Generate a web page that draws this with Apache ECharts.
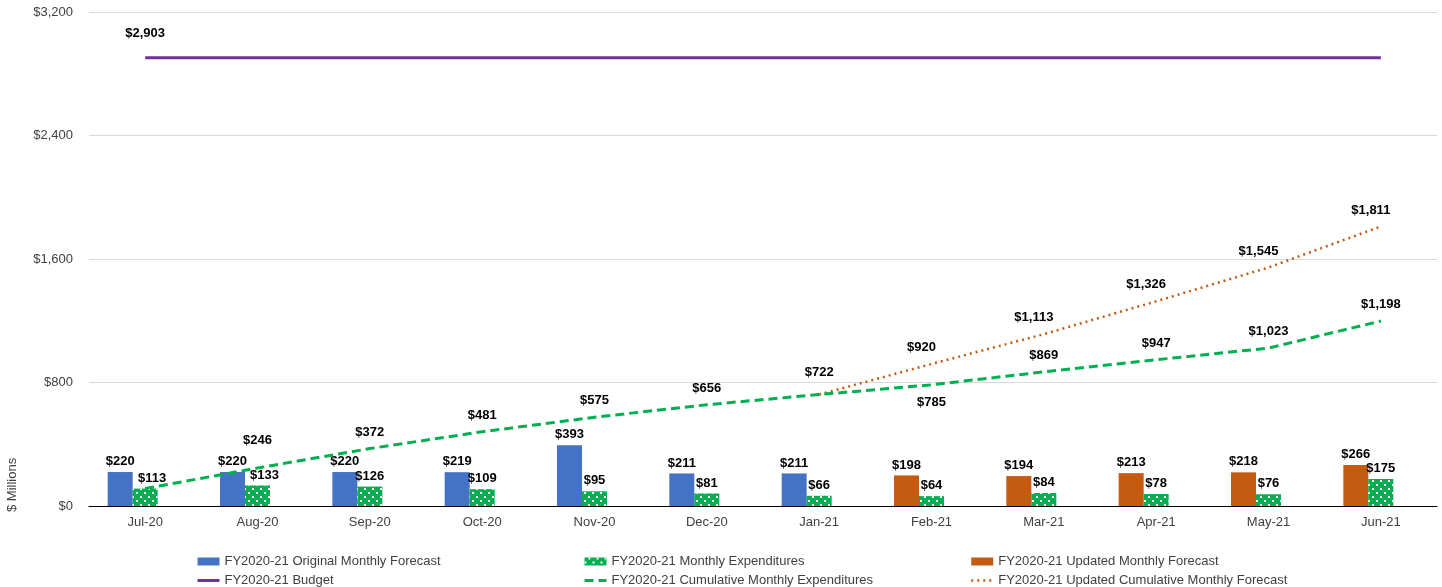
<!DOCTYPE html>
<html>
<head>
<meta charset="utf-8">
<script src="https://cdn.jsdelivr.net/npm/echarts@6/dist/echarts.min.js"></script>
<style>
html,body{margin:0;padding:0;background:#fff;}
#chart{width:1442px;height:587px;}
</style>
</head>
<body>
<div id="chart"></div>
<script>
const categories = ['Jul-20','Aug-20','Sep-20','Oct-20','Nov-20','Dec-20','Jan-21','Feb-21','Mar-21','Apr-21','May-21','Jun-21'];
const originalForecast = [220, 220, 220, 219, 393, 211, 211, '-', '-', '-', '-', '-'];
const updatedForecast = ['-', '-', '-', '-', '-', '-', '-', 198, 194, 213, 218, 266];
const monthlyExpenditures = [113, 133, 126, 109, 95, 81, 66, 64, 84, 78, 76, 175];
const budget = [2903, 2903, 2903, 2903, 2903, 2903, 2903, 2903, 2903, 2903, 2903, 2903];
const cumulativeExpenditures = [113, 246, 372, 481, 575, 656, 722, 785, 869, 947, 1023, 1198];
const updatedCumulative = ['-', '-', '-', '-', '-', '-', 722, 920, 1113, 1326, 1545, 1811];
const yTicks = {min: 0, max: 3200, interval: 800};

const textFont = 'Liberation Sans, Arial, sans-serif';
const fmt = p => '$' + Number(p.value).toLocaleString('en-US');
const labelStyle = {show: true, color: '#000', fontWeight: 'bold', fontSize: 13, fontFamily: textFont, formatter: fmt};

const cumData = cumulativeExpenditures.map((v, i) => {
  if (i === 0) return {value: v, label: {show: false}};
  if (i === 1) return {value: v, label: {distance: 21}};
  if (i === 6) return {value: v, label: {distance: 16}};
  if (i === 7) return {value: v, label: {position: 'bottom', distance: 11}};
  return v;
});
const updData = updatedCumulative.map((v, i) => (i === 6 ? {value: v, label: {show: false}} : v));
const budgetData = budget.map((v, i) => (i === 0 ? v : {value: v, label: {show: false}}));
const expData = monthlyExpenditures.map((v, i) => (i <= 1 ? {value: v, label: {offset: [7, 0]}} : v));

const hideSym = {color: 'transparent', borderWidth: 0, opacity: 0};
const legendBase = {orient: 'vertical', top: 555, padding: 0, itemGap: 6, itemWidth: 22, itemHeight: 8,
  textStyle: {color: '#404040', fontSize: 13, fontFamily: textFont}};

const chart = echarts.init(document.getElementById('chart'));
chart.setOption({
  animation: false,
  textStyle: {fontFamily: textFont},
  grid: {left: 89, right: 5, top: 12, bottom: 81, containLabel: false},
  xAxis: {
    type: 'category', data: categories,
    axisLine: {lineStyle: {color: '#000', width: 1}},
    axisTick: {show: false},
    axisLabel: {color: '#404040', fontSize: 13, margin: 10, fontFamily: textFont}
  },
  yAxis: {
    type: 'value', min: yTicks.min, max: yTicks.max, interval: yTicks.interval,
    axisLine: {show: false}, axisTick: {show: false},
    splitLine: {lineStyle: {color: '#d9d9d9', width: 1}},
    axisLabel: {color: '#404040', fontSize: 13, margin: 16, fontFamily: textFont,
      formatter: v => '$' + v.toLocaleString('en-US')}
  },
  graphic: [{
    type: 'text', x: 6, y: 512, rotation: Math.PI / 2,
    style: {text: '$ Millions', fill: '#404040', font: '13px Liberation Sans, Arial, sans-serif'}
  }],
  legend: [
    Object.assign({left: 196, data: [
      {name: 'FY2020-21 Original Monthly Forecast', icon: 'rect'},
      {name: 'FY2020-21 Budget', itemStyle: hideSym, lineStyle: {width: 3}}]}, legendBase),
    Object.assign({left: 583, data: [
      {name: 'FY2020-21 Monthly Expenditures', icon: 'rect'},
      {name: 'FY2020-21 Cumulative Monthly Expenditures', itemStyle: hideSym, lineStyle: {width: 3}}]}, legendBase),
    Object.assign({left: 970, data: [
      {name: 'FY2020-21 Updated Monthly Forecast', icon: 'rect'},
      {name: 'FY2020-21 Updated Cumulative Monthly Forecast', itemStyle: hideSym, lineStyle: {width: 2.5}}]}, legendBase)
  ],
  series: [
    {name: 'FY2020-21 Original Monthly Forecast', type: 'bar', stack: 'forecast', data: originalForecast,
     barWidth: 25, barGap: '0%', itemStyle: {color: '#4472c4'}, label: Object.assign({position: 'top', distance: 4}, labelStyle)},
    {name: 'FY2020-21 Updated Monthly Forecast', type: 'bar', stack: 'forecast', data: updatedForecast,
     barWidth: 25, barGap: '0%', itemStyle: {color: '#c55a11'}, label: Object.assign({position: 'top', distance: 4}, labelStyle)},
    {name: 'FY2020-21 Monthly Expenditures', type: 'bar', data: expData,
     barWidth: 25, barGap: '0%',
     itemStyle: {color: '#00b050', decal: {symbol: 'rect', symbolSize: 1, color: '#ffffff',
       dashArrayX: [[2, 6], [0, 4, 2, 2]], dashArrayY: [2, 1.5], rotation: 0}},
     label: Object.assign({position: 'top', distance: 4}, labelStyle)},
    {name: '', type: 'bar', data: [], barWidth: 25, barGap: '0%'},
    {name: 'FY2020-21 Budget', type: 'line', data: budgetData, symbol: 'circle', symbolSize: 0, showSymbol: true,
     lineStyle: {color: '#7030a0', width: 3}, itemStyle: {color: '#7030a0'},
     label: Object.assign({position: 'top', distance: 18}, labelStyle), z: 3},
    {name: 'FY2020-21 Cumulative Monthly Expenditures', type: 'line', data: cumData, symbol: 'circle', symbolSize: 0, showSymbol: true,
     lineStyle: {color: '#00b050', width: 3, type: [9, 5]}, itemStyle: {color: '#00b050'},
     label: Object.assign({position: 'top', distance: 10}, labelStyle), z: 4},
    {name: 'FY2020-21 Updated Cumulative Monthly Forecast', type: 'line', data: updData, symbol: 'circle', symbolSize: 0, showSymbol: true,
     lineStyle: {color: '#c55a11', width: 2.5, type: [2, 4]}, itemStyle: {color: '#c55a11'},
     label: Object.assign({position: 'top', distance: 10, offset: [-10, 0]}, labelStyle), z: 3}
  ]
});
</script>
</body>
</html>
